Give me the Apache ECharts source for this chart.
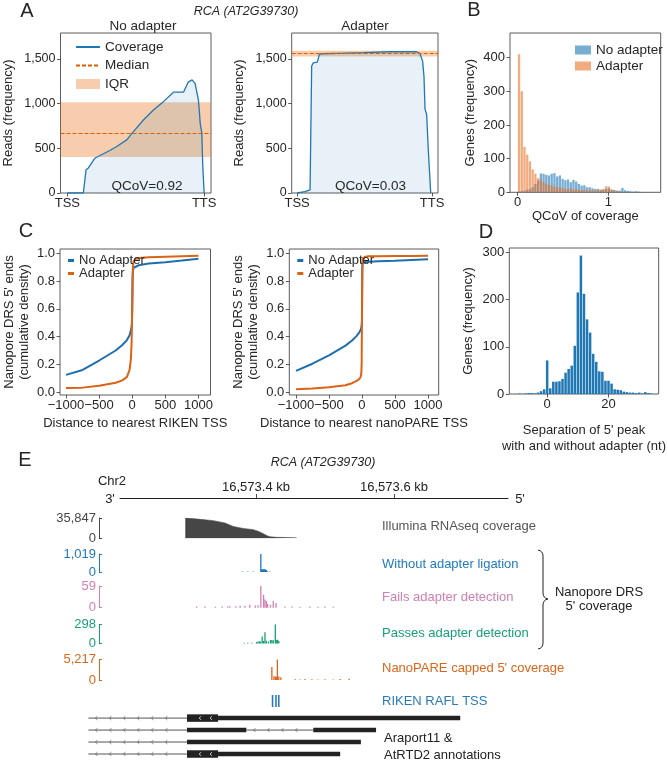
<!DOCTYPE html>
<html><head><meta charset="utf-8">
<script src="https://cdn.jsdelivr.net/npm/echarts@6/dist/echarts.min.js"></script>
<style>html,body{margin:0;padding:0;background:#fff}#c{width:668px;height:760px}</style>
</head><body><div id="c"></div>
<script>
// ================= DATA =================
// Panel A : coverage along gene body (0 = TSS, 1 = TTS)
const covNoAdapterPos = [0, 0.117, 0.137, 0.154, 0.178, 0.203, 0.264, 0.31, 0.361, 0.434, 0.483, 0.556, 0.629, 0.702, 0.776, 0.849, 0.883, 0.912, 0.934, 0.958, 0.966, 0.971, 0.983, 0.990, 1.0];
const covNoAdapterVal = [0, 0, 261, 280, 336, 392, 439, 475, 520, 594, 686, 817, 928, 1022, 1128, 1128, 1240, 1265, 1224, 1039, 891, 780, 669, 298, 0];
const medianNoAdapter = 667;
const iqrNoAdapter = [403, 1014];
const covAdapterPos = [0, 0.059, 0.096, 0.108, 0.12, 0.15, 0.165, 0.182, 0.3, 0.49, 0.687, 0.885, 0.91, 0.93, 0.94, 0.948, 0.96, 0.972, 0.99];
const covAdapterVal = [0, 15, 35, 1420, 1457, 1465, 1550, 1558, 1563, 1570, 1580, 1580, 1561, 1475, 1308, 935, 879, 487, 0];
const medianAdapter = 1560;
const iqrAdapter = [1527, 1592];
const qcovLabels = ['QCoV=0.92', 'QCoV=0.03'];
const aXTicks = [0, 1];
const aXLabels = ['TSS', 'TTS'];
const aYTicks = [0, 500, 1000, 1500];

// Panel B : histogram of QCoV
const bBins = [0.015,0.045,0.075,0.105,0.135,0.165,0.195,0.225,0.255,0.285,0.315,0.345,0.375,0.405,0.435,0.465,0.495,0.525,0.555,0.585,0.615,0.645,0.675,0.705,0.735,0.765,0.795,0.825,0.855,0.885,0.915,0.945,0.975,1.005,1.035,1.065,1.095,1.125,1.155,1.185,1.215,1.245,1.275,1.305,1.335,1.365];
const bNoAdapter = [2,3,5,8,10,15,25,35,56,55,52,50,55,57,47,50,40,36,38,30,37,32,25,20,21,15,15,12,10,10,8,8,10,12,8,7,5,5,13,6,4,3,2,3,2,1];
const bAdapter = [410,300,135,112,92,68,55,42,38,30,25,22,20,18,15,14,13,10,9,12,8,10,7,6,8,5,7,6,5,8,6,10,18,17,8,5,3,2,1,1,0,0,0,0,0,0];
const bXTicks = [0, 1];
const bYTicks = [0, 100, 200, 300, 400];

// Panel C : cumulative density of 5' ends vs distance to TSS
const cDist = [-1000,-750,-500,-250,-150,-80,-40,-20,-10,-5,0,5,10,20,50,100,250,500,750,1000];
const cRikenNoAdapter = [0.125,0.16,0.228,0.30,0.34,0.375,0.41,0.445,0.47,0.5,0.6,0.82,0.87,0.895,0.908,0.913,0.925,0.935,0.947,0.96];
const cRikenAdapter = [0.03,0.033,0.046,0.068,0.085,0.11,0.16,0.24,0.35,0.48,0.62,0.8,0.9,0.94,0.958,0.966,0.971,0.975,0.978,0.981];
const cPareNoAdapter = [0.153,0.205,0.265,0.335,0.372,0.405,0.43,0.45,0.465,0.48,0.52,0.9,0.928,0.933,0.936,0.939,0.942,0.946,0.951,0.956];
const cPareAdapter = [0.022,0.026,0.035,0.05,0.065,0.082,0.095,0.11,0.14,0.2,0.55,0.9,0.96,0.972,0.975,0.977,0.978,0.979,0.98,0.982];
const cXTicks = [-1000, -500, 0, 500, 1000];
const cYTicks = [0, 0.2, 0.4, 0.6, 0.8, 1.0];

// Panel D : separation of 5' peak
const dSep = [-9,-7,-6,-5,-4,-3,-2,-1,0,1,2,3,4,5,6,7,8,9,10,11,12,13,14,15,16,17,18,19,20,21,22,23,24,25,26,27,28,29,30,31,32,33,34];
const dGenes = [1,1,2,2,1,3,6,10,71,12,26,26,27,32,45,53,60,102,215,293,212,158,130,85,68,48,47,28,28,22,10,9,8,5,4,3,3,2,3,1,4,2,1];
const dXTicks = [0, 20];
const dYTicks = [0, 100, 200, 300];

// Panel E : genome browser tracks (Chr2, bp)
const rulerTicks = [16573400, 16573600];
const illuminaPos = [16573298, 16573298, 16573319, 16573338, 16573355, 16573367, 16573381, 16573396, 16573403, 16573410, 16573416, 16573420, 16573430, 16573459, 16573459];
const illuminaCov = [0, 35847, 33500, 31200, 27000, 21000, 17500, 15300, 12500, 8500, 4500, 2700, 1700, 1000, 0];
const illuminaMax = 35847;
const noLigPos = [16573380, 16573388, 16573396, 16573407, 16573408, 16573409, 16573410, 16573411, 16573412, 16573413, 16573414, 16573415, 16573416, 16573420];
const noLigVal = [25, 25, 25, 1019, 150, 160, 140, 150, 145, 150, 130, 120, 60, 25];
const noLigMax = 1019;
const failPos = [16573314, 16573326, 16573341, 16573351, 16573359, 16573362, 16573371, 16573377, 16573384, 16573391, 16573399, 16573403, 16573407, 16573411, 16573413, 16573415, 16573417, 16573421, 16573425, 16573429, 16573442, 16573452, 16573464, 16573478, 16573490, 16573500, 16573512];
const failVal = [3, 3, 2.5, 3, 3, 4, 4, 5, 5, 8, 6, 7, 59, 35, 22, 18, 10, 8, 18, 13, 3, 3, 2.5, 3, 2.5, 3, 2.5];
const failMax = 59;
const passPos = [16573383, 16573388, 16573394, 16573401, 16573403, 16573405, 16573407, 16573409, 16573411, 16573413, 16573415, 16573418, 16573421, 16573423, 16573425, 16573428, 16573430, 16573431, 16573433];
const passVal = [12, 12, 12, 25, 30, 35, 30, 110, 40, 175, 45, 30, 55, 55, 50, 298, 55, 60, 45];
const passMax = 298;
const parePos = [16573423, 16573426, 16573428, 16573430, 16573431, 16573433, 16573436, 16573457, 16573464, 16573471, 16573481, 16573490, 16573500, 16573512, 16573522, 16573535];
const pareVal = [3300, 950, 900, 850, 5217, 900, 700, 200, 150, 250, 200, 150, 200, 150, 250, 300];
const pareMax = 5217;
const rikenTss = [16573424, 16573429, 16573433];
// gene models: start, end, row, kind (0 intron line, 1 tall box, 2 exon bar)
const geneStart = [16573157, 16573300, 16573345, 16573157, 16573300, 16573386, 16573483, 16573157, 16573300, 16573157, 16573300, 16573345];
const geneEnd   = [16573300, 16573345, 16573696, 16573300, 16573386, 16573483, 16573574, 16573300, 16573552, 16573300, 16573345, 16573522];
const geneRow   = [0, 0, 0, 1, 1, 1, 1, 2, 2, 3, 3, 3];
const geneKind  = [0, 1, 2, 0, 2, 0, 2, 0, 2, 0, 1, 2];

// ================= STYLE / LAYOUT =================
const FONT = "'Liberation Sans', Arial, sans-serif";
const TXT = '#262626';
const BLUE = '#1f77b4';
const ORANGE = '#d95f02';
const IQR_COLOR = 'rgba(235,130,50,0.4)';
const CBLUE = '#1f6fae';
const CORANGE = '#dc6214';
const zip = (a, b) => a.map((v, i) => [v, b[i]]);
const fmtComma = v => Math.round(v).toLocaleString('en-US');
const fmtMinus = v => v < 0 ? '\u2212' + (-v) : String(v);

const grids = [], xAxes = [], yAxes = [], series = [], legends = [], graphics = [];
function addGrid(g, xa, ya) {
  grids.push(g);
  const i = grids.length - 1;
  xa.gridIndex = i; ya.gridIndex = i;
  xAxes.push(xa); yAxes.push(ya);
  return i;
}
function grid(left, top, width, height, framed) {
  return {left, top, width, height, show: !!framed, borderColor: '#4a4a4a', borderWidth: 0.9, backgroundColor: 'rgba(0,0,0,0)'};
}
function axis(o) {
  const t = o.ticks;
  return {
    type: 'value', min: o.min, max: o.max, inverse: !!o.inverse, show: o.show !== false,
    position: o.position,
    name: o.name || '', nameLocation: 'middle', nameGap: o.nameGap || 20,
    nameTextStyle: Object.assign({fontSize: 13, color: TXT, fontFamily: FONT}, o.nameStyle || {}),
    axisLine: {show: !!o.line, onZero: false, lineStyle: {color: o.lineColor || '#333', width: 1}},
    axisTick: t ? {show: true, inside: !!o.tickInside, length: o.tickLen || 3.5, customValues: o.tickValues || t,
      lineStyle: {color: o.tickColor || '#333', width: o.tickWidth || 0.8}} : {show: false},
    axisLabel: t ? {show: true, inside: !!o.labelInside, customValues: t, formatter: o.fmt, color: o.labelColor || TXT,
      fontSize: o.labelSize || 12.5, fontFamily: FONT, margin: o.margin != null ? o.margin : 5} : {show: false},
    splitLine: {show: false}
  };
}
function txt(text, x, y, st) {
  return {type: 'text', x, y, silent: true, z: 50,
    style: Object.assign({text, fontSize: 13, fontFamily: FONT, fill: TXT, align: 'center', verticalAlign: 'middle'}, st || {})};
}

// ---------- Panel A ----------
function panelA(left, width, xmin, xmax, pos, val, med, iqr, names) {
  const g = addGrid(grid(left, 33, width, 160, true),
    axis({min: xmin, max: xmax, ticks: aXTicks, fmt: v => aXLabels[aXTicks.indexOf(v)], margin: 4, labelSize: 13}),
    axis({min: 0, max: 1790, ticks: aYTicks, fmt: fmtComma, name: 'Reads (frequency)', nameGap: 46}));
  series.push({name: names[2], type: 'line', xAxisIndex: g, yAxisIndex: g, data: [], symbol: 'none', z: 1, silent: true,
    itemStyle: {color: IQR_COLOR}, lineStyle: {width: 0},
    markArea: {silent: true, itemStyle: {color: IQR_COLOR}, data: [[{yAxis: iqr[0]}, {yAxis: iqr[1]}]]}});
  series.push({name: names[0], type: 'line', xAxisIndex: g, yAxisIndex: g, data: zip(pos, val), symbol: 'none', z: 3, silent: true,
    lineStyle: {color: BLUE, width: 1.3}, itemStyle: {color: BLUE}, areaStyle: {color: 'rgba(31,119,180,0.15)'}});
  series.push({name: names[1], type: 'line', xAxisIndex: g, yAxisIndex: g, data: [], symbol: 'none', z: 4, silent: true,
    lineStyle: {color: ORANGE, width: 1, type: [4, 2]}, itemStyle: {color: ORANGE},
    markLine: {silent: true, symbol: 'none', label: {show: false}, lineStyle: {color: ORANGE, width: 1, type: [4, 2]}, data: [{yAxis: med}]}});
  return g;
}
panelA(60.5, 150.5, -0.05, 1.05, covNoAdapterPos, covNoAdapterVal, medianNoAdapter, iqrNoAdapter, ['Coverage', 'Median', 'IQR']);
panelA(291.7, 146.3, -0.04, 1.044, covAdapterPos, covAdapterVal, medianAdapter, iqrAdapter, ['covAd', 'medAd', 'iqrAd']);
legends.push({orient: 'vertical', left: 70, top: 35, itemWidth: 24, itemHeight: 10, itemGap: 4.5, selectedMode: false,
  textStyle: {fontSize: 13.5, color: TXT, fontFamily: FONT, lineHeight: 14},
  data: [{name: 'Coverage', itemStyle: {opacity: 0}}, {name: 'Median', itemStyle: {opacity: 0}},
         {name: 'IQR', icon: 'rect', itemStyle: {color: IQR_COLOR, opacity: 1}}]});

// ---------- Panel B ----------
const gB = addGrid(grid(510, 33, 150.7, 159.3, true),
  axis({min: -0.085, max: 1.577, ticks: bXTicks, fmt: v => String(v), name: 'QCoV of coverage', nameGap: 14, margin: 4, labelSize: 13}),
  axis({min: 0, max: 473, ticks: bYTicks, fmt: v => String(v), name: 'Genes (frequency)', nameGap: 33, labelSize: 13}));
series.push({name: 'No adapter', type: 'bar', xAxisIndex: gB, yAxisIndex: gB, data: zip(bBins, bNoAdapter), barWidth: 2.3, barGap: '-100%',
  itemStyle: {color: 'rgba(31,119,180,0.6)'}, silent: true});
series.push({name: 'Adapter', type: 'bar', xAxisIndex: gB, yAxisIndex: gB, data: zip(bBins, bAdapter), barWidth: 2.3, barGap: '-100%',
  itemStyle: {color: 'rgba(232,115,42,0.6)'}, silent: true});
legends.push({orient: 'vertical', left: 570, top: 38, itemWidth: 16, itemHeight: 9, itemGap: 2, selectedMode: false, icon: 'rect',
  textStyle: {fontSize: 13.5, color: TXT, fontFamily: FONT, lineHeight: 14},
  data: ['No adapter', 'Adapter']});

// ---------- Panel C ----------
const cNames = {cNo1: 'No Adapter', cAd1: 'Adapter', cNo2: 'No Adapter', cAd2: 'Adapter'};
function panelC(left, width, xmin, xmax, noAd, ad, xname, ids) {
  const g = addGrid(grid(left, 249, width, 146, true),
    axis({min: xmin, max: xmax, ticks: cXTicks, fmt: fmtMinus, name: xname, nameGap: 22, margin: 4, labelSize: 13}),
    axis({min: -0.02, max: 1.03, ticks: cYTicks, fmt: v => v.toFixed(1), name: "Nanopore DRS 5' ends\n(cumulative density)", nameGap: 28,
      nameStyle: {lineHeight: 15}, labelSize: 13}));
  series.push({name: ids[0], type: 'line', xAxisIndex: g, yAxisIndex: g, data: zip(cDist, noAd), symbol: 'none', silent: true,
    lineStyle: {color: CBLUE, width: 2}, itemStyle: {color: CBLUE}});
  series.push({name: ids[1], type: 'line', xAxisIndex: g, yAxisIndex: g, data: zip(cDist, ad), symbol: 'none', silent: true,
    lineStyle: {color: CORANGE, width: 2}, itemStyle: {color: CORANGE}});
  legends.push({orient: 'vertical', left: left + 3, top: 249, itemWidth: 6, itemHeight: 3, itemGap: 0, selectedMode: false, icon: 'rect',
    textStyle: {fontSize: 13, color: TXT, fontFamily: FONT, lineHeight: 13}, formatter: n => cNames[n],
    data: [{name: ids[0], itemStyle: {color: CBLUE}}, {name: ids[1], itemStyle: {color: CORANGE}}]});
}
panelC(60, 150.5, -1091, 1182, cRikenNoAdapter, cRikenAdapter, 'Distance to nearest RIKEN TSS', ['cNo1', 'cAd1']);
panelC(289.3, 149.4, -1101, 1162, cPareNoAdapter, cPareAdapter, 'Distance to nearest nanoPARE TSS', ['cNo2', 'cAd2']);

// ---------- Panel D ----------
const gD = addGrid(grid(509.3, 248, 150.7, 146, true),
  axis({min: -12.35, max: 36.35, ticks: dXTicks, fmt: v => String(v), name: "Separation of 5' peak\nwith and without adapter (nt)", nameGap: 28,
    nameStyle: {lineHeight: 16}, margin: 4, labelSize: 13}),
  axis({min: 0, max: 309, ticks: dYTicks, fmt: v => String(v), name: 'Genes (frequency)', nameGap: 34, labelSize: 13}));
series.push({name: 'sep', type: 'bar', xAxisIndex: gD, yAxisIndex: gD, data: zip(dSep, dGenes), barWidth: 2.5, silent: true,
  itemStyle: {color: '#1f77b4'}});

// ---------- Panel E ----------
const PX_PER_BP = 0.69, ANCHOR_PX = 256, ANCHOR_BP = 16573400;
const bpAt = px => ANCHOR_BP + (px - ANCHOR_PX) / PX_PER_BP;
// ruler
const gR = addGrid(grid(120, 470, 388, 28, false),
  axis({min: bpAt(120), max: bpAt(508), ticks: rulerTicks, fmt: v => (v / 1000).toLocaleString('en-US', {minimumFractionDigits: 1, maximumFractionDigits: 1}) + ' kb',
    line: true, lineColor: '#222', tickInside: true, labelInside: true, tickLen: 4, tickColor: '#222', labelColor: '#222', labelSize: 13, margin: 4, position: 'bottom'}),
  axis({min: 0, max: 1, show: false}));
// tracks
function track(top, height, pos, val, max, color, isArea) {
  const g = addGrid(grid(99, top, 421, height, false),
    axis({min: bpAt(99), max: bpAt(520), show: false}),
    axis({min: 0, max: max, ticks: [0, max], fmt: fmtComma, line: true, lineColor: color, tickInside: true, tickLen: 3, tickColor: color,
      tickWidth: 1, labelColor: color, labelSize: 13, margin: 3, position: 'left'}));
  if (isArea) {
    series.push({name: 'trk' + g, type: 'line', xAxisIndex: g, yAxisIndex: g, data: zip(pos, val), symbol: 'none', silent: true,
      lineStyle: {color: color, width: 0.6}, areaStyle: {color: color, opacity: 1}, z: 2});
  } else {
    series.push({name: 'trk' + g, type: 'bar', xAxisIndex: g, yAxisIndex: g, data: zip(pos, val), barWidth: 1.3, silent: true,
      itemStyle: {color: color}, z: 2});
  }
  return g;
}
track(518, 20.3, illuminaPos, illuminaCov, illuminaMax, '#464646', true);
track(554, 18, noLigPos, noLigVal, noLigMax, '#1f78b9', false);
track(586, 21.7, failPos, failVal, failMax, '#d47fb1', false);
track(624.5, 19, passPos, passVal, passMax, '#17a077', false);
track(659.5, 20.5, parePos, pareVal, pareMax, '#d9661a', false);
// RIKEN TSS ticks
const gT = addGrid(grid(99, 695, 421, 12, false),
  axis({min: bpAt(99), max: bpAt(520), show: false}), axis({min: 0, max: 1, show: false}));
series.push({name: 'riken', type: 'bar', xAxisIndex: gT, yAxisIndex: gT, data: rikenTss.map(p => [p, 1]), barWidth: 1.6, silent: true,
  itemStyle: {color: '#2a7ab9'}});
// gene models
function chev(cx, cy, color) {
  return {type: 'polyline', shape: {points: [[cx + 1, cy - 1.8], [cx - 0.8, cy], [cx + 1, cy + 1.8]]}, style: {stroke: color, fill: null, lineWidth: 0.8}};
}
function renderGene(params, api) {
  const s = api.coord([api.value(0), api.value(2)]);
  const e = api.coord([api.value(1), api.value(2)]);
  const kind = api.value(3);
  const y = s[1], x0 = s[0], x1 = e[0];
  const children = [];
  if (kind === 0) {
    children.push({type: 'line', shape: {x1: x0, y1: y, x2: x1, y2: y}, style: {stroke: '#555', lineWidth: 1}});
    for (let cx = x0 + 8; cx < x1 - 12; cx += 14) children.push(chev(cx, y, '#555'));
  } else {
    const h = kind === 1 ? 7.5 : 4.5;
    children.push({type: 'rect', shape: {x: x0, y: y - h / 2, width: x1 - x0, height: h}, style: {fill: '#222'}});
    if (kind === 1) {
      children.push(chev(x0 + (x1 - x0) * 0.42, y, '#fff'));
      children.push(chev(x0 + (x1 - x0) * 0.77, y, '#fff'));
    }
  }
  return {type: 'group', children};
}
const gG = addGrid(grid(80, 712.1, 440, 49.9, false),
  axis({min: bpAt(80), max: bpAt(520), show: false}), axis({min: -0.5, max: 3.5, inverse: true, show: false}));
series.push({name: 'genes', type: 'custom', xAxisIndex: gG, yAxisIndex: gG, silent: true, clip: false,
  renderItem: renderGene, encode: {x: [0, 1], y: 2},
  data: geneStart.map((s, i) => [s, geneEnd[i], geneRow[i], geneKind[i]])});

// ---------- text annotations ----------
const braceStyle = {stroke: '#222', fill: null, lineWidth: 1};
graphics.push(
  txt('A', 27, 11, {fontSize: 20}), txt('B', 474, 10, {fontSize: 20}), txt('C', 26, 231, {fontSize: 20}),
  txt('D', 486, 232, {fontSize: 20}), txt('E', 25, 460, {fontSize: 20}),
  txt('RCA (AT2G39730)', 246, 12, {fontStyle: 'italic', fontSize: 12.5}),
  txt('No adapter', 143, 26, {fontSize: 13.5}), txt('Adapter', 365, 26, {fontSize: 13.5}),
  txt(qcovLabels[0], 147, 186, {fontSize: 13.5}), txt(qcovLabels[1], 370.5, 186, {fontSize: 13.5}),
  txt('RCA (AT2G39730)', 323, 463, {fontStyle: 'italic', fontSize: 12.5}),
  txt('Chr2', 112, 481, {fill: '#222'}), txt("3'", 110, 499, {fill: '#222'}), txt("5'", 520, 499, {fill: '#222'}),
  txt('Illumina RNAseq coverage', 382, 526, {align: 'left', fill: '#555'}),
  txt('Without adapter ligation', 382, 564, {align: 'left', fill: '#1f7bbf'}),
  txt('Fails adapter detection', 382, 597, {align: 'left', fill: '#d07fb3'}),
  txt('Passes adapter detection', 382, 633, {align: 'left', fill: '#17a077'}),
  txt("NanoPARE capped 5' coverage", 382, 668, {align: 'left', fill: '#d9661a'}),
  txt('RIKEN RAFL TSS', 382, 701, {align: 'left', fill: '#2a7ab9'}),
  txt('Araport11 &', 384, 738, {align: 'left', fill: '#222'}),
  txt('AtRTD2 annotations', 384, 755, {align: 'left', fill: '#222'}),
  txt('Nanopore DRS', 599, 592, {fill: '#222'}), txt("5' coverage", 599, 606, {fill: '#222'}),
  {type: 'bezierCurve', silent: true, z: 50, shape: {x1: 538, y1: 550, x2: 543, y2: 556, cpx1: 543, cpy1: 551}, style: braceStyle},
  {type: 'line', silent: true, z: 50, shape: {x1: 543, y1: 556, x2: 543, y2: 593}, style: braceStyle},
  {type: 'bezierCurve', silent: true, z: 50, shape: {x1: 543, y1: 593, x2: 548, y2: 599, cpx1: 543, cpy1: 598}, style: braceStyle},
  {type: 'bezierCurve', silent: true, z: 50, shape: {x1: 548, y1: 599, x2: 543, y2: 605, cpx1: 543, cpy1: 600}, style: braceStyle},
  {type: 'line', silent: true, z: 50, shape: {x1: 543, y1: 605, x2: 543, y2: 643}, style: braceStyle},
  {type: 'bezierCurve', silent: true, z: 50, shape: {x1: 543, y1: 643, x2: 538, y2: 649, cpx1: 543, cpy1: 648}, style: braceStyle}
);

const chart = echarts.init(document.getElementById('c'), null, {renderer: 'canvas', width: 668, height: 760});
chart.setOption({
  backgroundColor: '#fff', animation: false,
  grid: grids, xAxis: xAxes, yAxis: yAxes, series: series, legend: legends, graphic: graphics
});
</script></body></html>
